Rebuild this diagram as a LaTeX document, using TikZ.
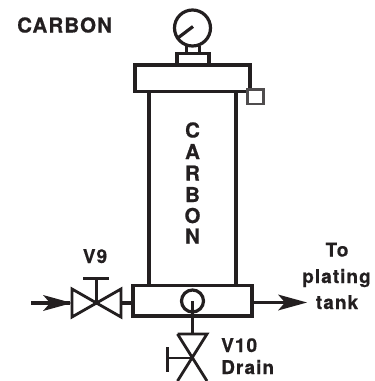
\documentclass[tikz,border=0pt]{standalone}
\usepackage{fontspec}
\setmainfont{Liberation Sans}
\newfontfamily\lblfont[LetterSpace=5.5,BoldFeatures={FakeBold=0.6}]{TeX Gyre Heros}
\definecolor{ink}{HTML}{231F20}
\tikzset{
  x=1bp,y=-1bp,
  pipe/.style={draw=ink,line width=3.2bp,line join=miter},
  valveline/.style={draw=ink,line width=2.8bp,line join=miter},
  lbl/.style={text=ink,inner sep=0pt,font=\lblfont\bfseries\fontsize{19bp}{19bp}\selectfont},
  lblbig/.style={text=ink,inner sep=0pt,font=\lblfont\bfseries\fontsize{20.5bp}{20bp}\selectfont},
}
\newcommand{\swepthead}[4]{% tip, back x, notch x, y
  \fill[ink] (#1,#4) -- (#2,#4-8) -- (#3,#4) -- (#2,#4+8) -- cycle;}
\begin{document}
\begin{tikzpicture}
\useasboundingbox (0,0) rectangle (375,381);
% gauge
\node[circle,draw=ink,line width=3.2bp,minimum size=36bp,inner sep=0pt] (gauge) at (192.5,28) {};
\coordinate (needleA) at (178.5,37.5);
\coordinate (needleB) at (193,26.5);
\draw[pipe] (needleA) -- (needleB);
% neck and base
\draw[pipe] (186.5,46) -- (186.5,54) (199.5,46) -- (199.5,54);
\draw[pipe] (177,65) -- (177,53.5) -- (209,53.5) -- (209,65);
% cap, body
\draw[pipe] (135,65) rectangle (250,91.5);
\draw[pipe] (149,91.5) -- (149,285) (236,91.5) -- (236,285);
% gauge port
\draw[draw=ink!80!white,line width=2.2bp,fill=white] (247.5,89.5) rectangle (263.5,104);
% bottom box
\draw[pipe] (133,285.5) rectangle (252,316);
\node[circle,draw=ink,line width=3.2bp,minimum size=22bp,inner sep=0pt,fill=white] (sight) at (192.5,301) {};
\coordinate (drainTop) at (192.5,334);
\draw[pipe] (sight.center) -- (drainTop);
% V10
\draw[valveline] (177.5,334) -- (207,334) -- (177.5,381) (207,381) -- (177.5,334);
\draw[valveline] (192.3,358) -- (167.5,358) (167.5,347) -- (167.5,372);
% V9
\draw[valveline] (72,289) -- (72,317) -- (121,289) -- (121,317) -- cycle;
\draw[valveline] (96.5,303) -- (96.5,278.5) (83,278.5) -- (109,278.5);
\coordinate (vnine) at (121,303);
\coordinate (boxL) at (133,303);
\draw[pipe] (vnine) -- (boxL);
% arrows
\coordinate (inS) at (31,303);
\coordinate (inE) at (70,303);
\draw[pipe] (inS) -- (inE);
\swepthead{72}{43}{50}{303}
\coordinate (outS) at (252,302.5);
\coordinate (outE) at (285,302.5);
\draw[pipe] (outS) -- (outE);
\swepthead{307}{278}{285}{302.5}
% labels
\node[lblbig,anchor=base west] (title) at (17,32.5) {CARBON};
\foreach \l/\yy/\n in {C/137.5/a,A/159/b,R/180.5/c,B/202/d,O/223/e,N/243.5/f}
  \node[lblbig,anchor=base] (v\n) at (192.5,\yy) {\l};
\node[lbl,anchor=base] (vnlbl) at (95,263) {V9};
\node[lbl,anchor=base] (to) at (337,256.5) {To};
\node[lbl,anchor=base] (plating) at (336.5,283) {plating};
\node[lbl,anchor=base] (tank) at (337,309) {tank};
\node[lbl,anchor=base west] (vten) at (221,352) {V10};
\node[lbl,anchor=base west] (drain) at (221,374) {Drain};
\end{tikzpicture}
\end{document}
